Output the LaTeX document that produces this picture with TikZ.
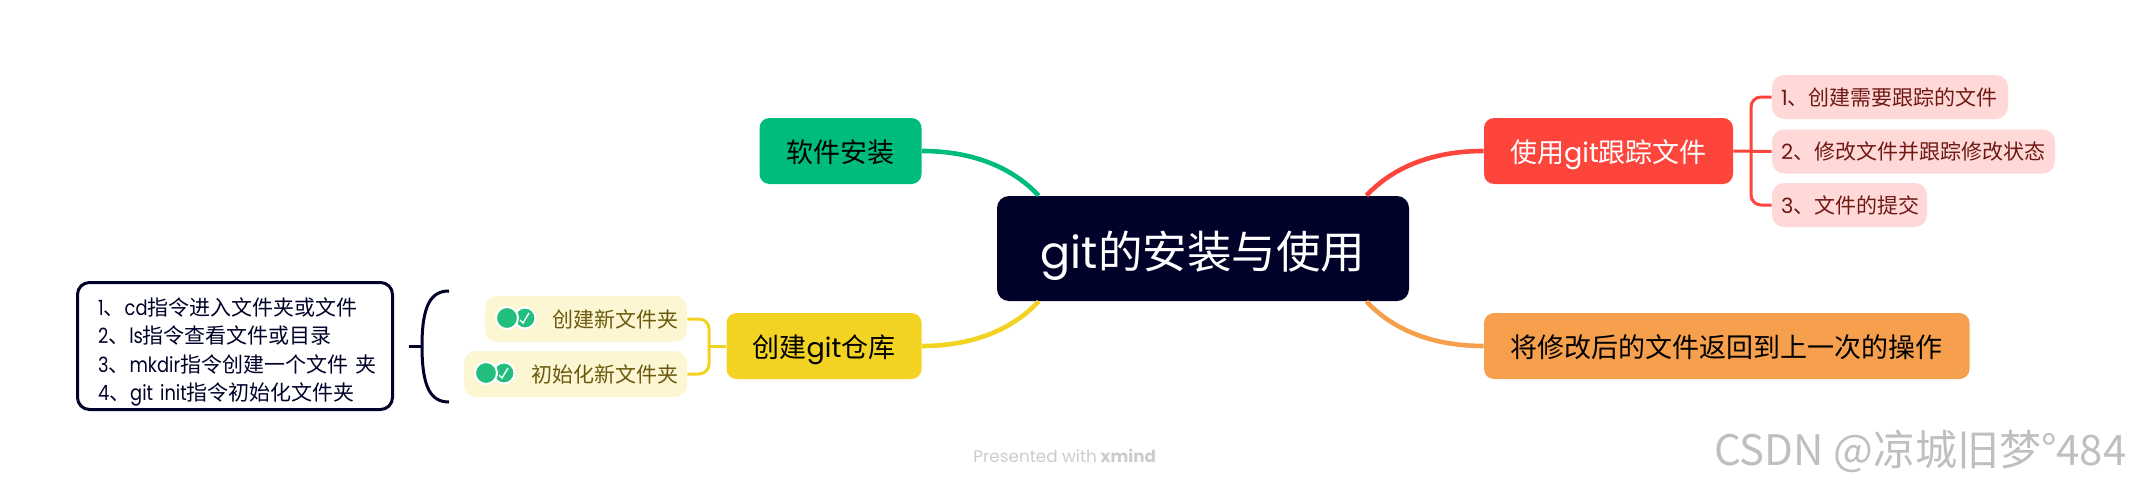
\documentclass[tikz,border=0pt]{standalone}
\usepackage{fontspec}
\setmainfont{Noto Sans CJK SC}
\newfontfamily\enfont{Poppins}
\newfontfamily\enfontnarrow[FakeStretch=0.85]{Poppins}
\usetikzlibrary{
  calc
}
\definecolor{inkblue}{RGB}{0,2,41}
\definecolor{softgreen}{RGB}{0,188,123}
\definecolor{repoyellow}{RGB}{243,211,33}
\definecolor{trackred}{RGB}{253,69,60}
\definecolor{undoorange}{RGB}{246,160,77}
\definecolor{palepink}{RGB}{255,217,216}
\definecolor{pinktext}{RGB}{112,24,20}
\definecolor{paleyellow}{RGB}{252,246,211}
\definecolor{yellowtext}{RGB}{107,90,13}
\definecolor{tickgreen}{RGB}{33,190,125}
\newcommand{\en}[1]{{\enfont #1}}
\newcommand{\enn}[1]{{\enfontnarrow #1}}
\tikzset{
  mainbox/.style={rounded corners=5pt, minimum height=33pt, inner sep=0pt, text height=12.6pt, text depth=1.4pt, font=\fontsize{13.5}{16}\selectfont},
  pinkbox/.style={rounded corners=6pt, fill=palepink, text=pinktext, minimum height=22pt, inner xsep=4.5pt, inner ysep=0pt, align=left, font=\fontsize{10.5}{13}\selectfont},
  yellowbox/.style={rounded corners=6pt, fill=paleyellow, text=yellowtext, minimum height=23pt, inner xsep=4.5pt, inner ysep=0pt, align=flush right, font=\fontsize{10.5}{13}\selectfont},
  mainlink/.style={line width=2.3pt},
  sublink/.style={line width=1.5pt, rounded corners=5pt}
}

\begin{document}
\begin{tikzpicture}[x=0.5pt, y=-0.5pt]
  \useasboundingbox (0,0) rectangle (2131,487);

  % Main branches
  \node[fill=inkblue, text=white, rounded corners=6pt, minimum width=206pt, minimum height=52.5pt, inner sep=0pt, text height=21pt, text depth=1.1pt, font=\fontsize{22.25}{26}\selectfont] (root) at (1203,248.5) {\en{git}的安装与使用};
  \node[mainbox, fill=softgreen, minimum width=81pt] (soft) at (840.5,151) {软件安装};
  \node[mainbox, fill=repoyellow, minimum width=97.5pt] (repo) at (824,346) {创建\en{git}仓库};
  \node[mainbox, fill=trackred, text=white, minimum width=124.5pt] (track) at (1608.5,151) {使用\en{git}跟踪文件};
  \node[mainbox, fill=undoorange, minimum width=242.75pt] (undo) at (1726.75,346) {将修改后的文件返回到上一次的操作};

  % Curves into the root
  \draw[mainlink, softgreen] (soft.east) .. controls (972,151) and (1012,167) .. ($(root.north west)+(42,0)$);
  \draw[mainlink, repoyellow] (repo.east) .. controls (972,346) and (1012,330) .. ($(root.south west)+(42,0)$);
  \draw[mainlink, trackred] (track.west) .. controls (1433,151) and (1393,167) .. ($(root.north east)+(-43,0)$);
  \draw[mainlink, undoorange] (undo.west) .. controls (1433,346) and (1393,330) .. ($(root.south east)+(-43,0)$);

  % Track children
  \node[pinkbox, text width=109pt] (trackone) at (1890,97) {\en{1}、创建需要跟踪的文件};
  \node[pinkbox, text width=132.5pt] (tracktwo) at (1913.5,151.5) {\en{2}、修改文件并跟踪修改状态};
  \node[pinkbox, text width=68.5pt] (trackthree) at (1849.5,205) {\en{3}、文件的提交};
  \coordinate (trackjoin) at (1751,151);
  \draw[sublink, trackred] (trackone.west) -| (trackjoin) |- (trackthree.west);
  \draw[sublink, trackred] (track.east) -- (tracktwo.west);

  % Repo children
  \node[yellowbox, text width=92pt] (newdir) at (586,319) {创建新文件夹};
  \node[yellowbox, text width=102.5pt] (initdir) at (575.5,374) {初始化新文件夹};
  \coordinate (repojoin) at (709,346);
  \draw[sublink, repoyellow] (newdir.east) -| (repojoin) |- (initdir.east);
  \draw[sublink, repoyellow] (repo.west) -- (repojoin);

  % Icons
  \foreach \ix/\iy in {507/318, 486/373} {
    \fill[tickgreen, draw=white, line width=1pt] (\ix+18,\iy) circle (10.5);
    \draw[white, line width=0.7pt] (\ix+13,\iy+2) -- (\ix+16,\iy+5) -- (\ix+22,\iy-5);
    \fill[tickgreen, draw=white, line width=1pt] (\ix,\iy) circle (11);
  }

  % Summary
  \node[draw=inkblue, line width=1.5pt, fill=white, text=inkblue, rounded corners=6pt, minimum width=157.5pt, minimum height=63.5pt, inner xsep=10pt, inner ysep=0pt, text width=137pt, align=left, font=\fontsize{10.5}{14.25}\selectfont] (summary) at (235,346) {\rule{0pt}{14.6pt}\enn{1}、\enn{cd}指令进入文件夹或文件\\\enn{2}、\enn{ls}指令查看文件或目录\\\enn{3}、\enn{mkdir}指令创建一个文件~夹\\\enn{4}、\enn{git init}指令初始化文件夹};
  \coordinate (bracetop) at (449,291);
  \coordinate (bracebot) at (449,402);
  \coordinate (bracemid) at (422,346);
  \coordinate (bracetip) at (409,346);
  \draw[line width=1.5pt, inkblue] (bracetop) .. controls (431,291) and (422,305) .. (bracemid) .. controls (422,388) and (431,402) .. (bracebot);
  \draw[line width=1.5pt, inkblue] (bracetip) -- (bracemid);

  % Footer
  \node[text=black!20, inner sep=0pt, anchor=west, font=\fontsize{8.4}{10}\selectfont] (footer) at (973,456) {\en{Presented with} \en{\bfseries xmind}};
  \node[text=black!25, inner sep=0pt, anchor=east, font=\fontsize{21}{24}\selectfont] (mark) at (2127,451) {CSDN @凉城旧梦°484};
\end{tikzpicture}
\end{document}
